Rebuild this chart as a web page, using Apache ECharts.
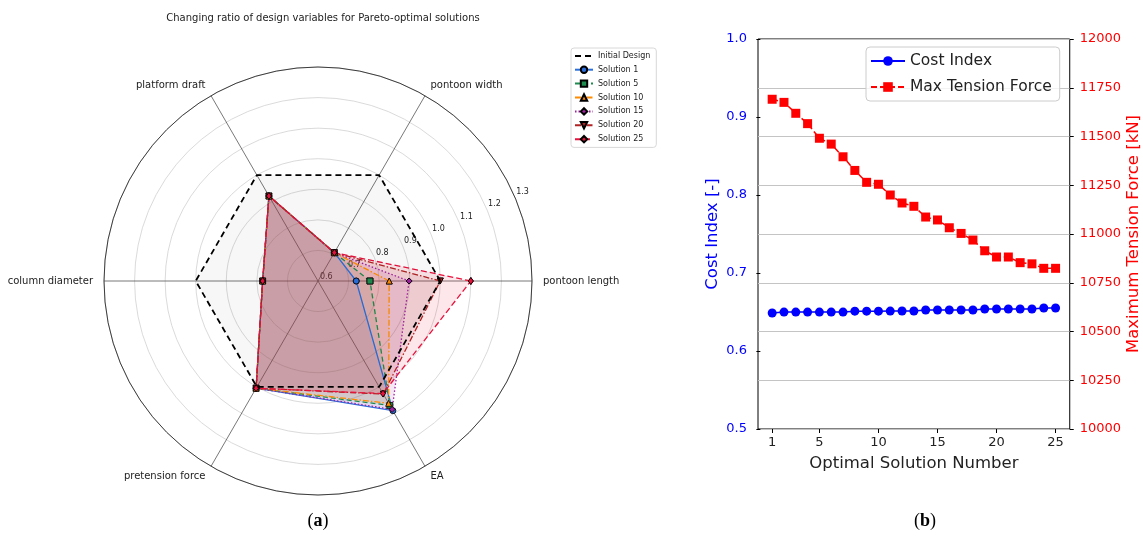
<!DOCTYPE html>
<html>
<head>
<meta charset="utf-8">
<script src="https://cdn.jsdelivr.net/npm/echarts@6/dist/echarts.min.js"></script>
<style>
  html, body { margin: 0; padding: 0; background: #ffffff; }
  #chart { width: 1143px; height: 537px; }
</style>
</head>
<body>
<div id="chart"></div>
<script>
// ---- Panel (a): changing ratio of design variables (polar / radar style) ----
const variables = ['pontoon length', 'pontoon width', 'platform draft', 'column diameter', 'pretension force', 'EA'];
const variableAngles = [0, 60, 120, 180, 240, 300];
const radialTicks = [0.6, 0.7, 0.8, 0.9, 1.0, 1.1, 1.2, 1.3];

const initialDesign = [1.0, 1.0, 1.0, 1.0, 1.0, 1.0];
const solution1  = [0.725, 0.707, 0.921, 0.781, 1.005, 1.090];
const solution5  = [0.770, 0.707, 0.921, 0.781, 1.005, 1.070];
const solution10 = [0.833, 0.707, 0.921, 0.781, 1.005, 1.062];
const solution15 = [0.898, 0.707, 0.921, 0.781, 1.005, 1.085];
const solution20 = [1.000, 0.707, 0.921, 0.781, 1.005, 1.027];
const solution25 = [1.100, 0.707, 0.921, 0.781, 1.005, 1.025];

// ---- Panel (b): cost index and maximum tension along the Pareto front ----
const solutionNumbers = [1, 2, 3, 4, 5, 6, 7, 8, 9, 10, 11, 12, 13, 14, 15, 16, 17, 18, 19, 20, 21, 22, 23, 24, 25];
const costIndex = [0.6487, 0.6499, 0.6499, 0.6499, 0.6499, 0.6499, 0.6499, 0.6511, 0.6511, 0.6511, 0.6512, 0.6513, 0.6513,
                   0.6525, 0.6525, 0.6525, 0.6525, 0.6525, 0.6539, 0.6539, 0.6539, 0.6539, 0.6539, 0.6552, 0.6552];
const maxTension = [11691, 11675, 11619, 11566, 11491, 11461, 11396, 11326, 11265, 11255, 11200, 11159, 11142,
                    11087, 11072, 11032, 11003, 10969, 10914, 10882, 10882, 10853, 10847, 10824, 10824];
const xTickValues = [1, 5, 10, 15, 20, 25];

const FONT = 'DejaVu Sans';

// closed polygon in (radius, angle) pairs
function polygon(values) {
  const pts = values.map((v, i) => [v, variableAngles[i]]);
  pts.push([values[0], 360]);
  return pts;
}

function solutionSeries(name, values, color, dash, symbol, extra) {
  return Object.assign({
    name: name,
    type: 'line',
    coordinateSystem: 'polar',
    polarIndex: 0,
    data: polygon(values),
    symbol: symbol,
    symbolSize: 6,
    lineStyle: { color: color, width: 1.3, type: dash },
    itemStyle: { color: color, borderColor: '#000', borderWidth: 0.8 },
    areaStyle: { color: color, opacity: 0.1 },
    z: 3
  }, extra || {});
}

const chart = echarts.init(document.getElementById('chart'), null, { renderer: 'canvas' });

const option = {
  animation: false,
  backgroundColor: '#ffffff',
  textStyle: { fontFamily: FONT },
  title: {
    text: 'Changing ratio of design variables for Pareto-optimal solutions',
    left: 318, top: 8, textAlign: 'center',
    textStyle: { fontSize: 10, fontWeight: 'normal', color: '#222', fontFamily: FONT }
  },
  legend: [
    {
      data: ['Initial Design', 'Solution 1', 'Solution 5', 'Solution 10', 'Solution 15', 'Solution 20', 'Solution 25'],
      orient: 'vertical', left: 571, top: 48,
      itemWidth: 18, itemHeight: 8, itemGap: 5.5,
      padding: [4, 6, 4, 3],
      borderColor: '#d8d8d8', borderWidth: 1, borderRadius: 3,
      textStyle: { fontSize: 8, color: '#222', fontFamily: FONT }
    },
    {
      data: ['Cost Index', 'Max Tension Force'],
      orient: 'vertical', left: 866, top: 47,
      itemWidth: 34, itemHeight: 12, itemGap: 10,
      padding: [6, 8, 6, 4],
      backgroundColor: 'rgba(255,255,255,0.8)',
      borderColor: '#cccccc', borderWidth: 1, borderRadius: 4,
      textStyle: { fontSize: 15.5, color: '#222', fontFamily: FONT }
    }
  ],
  polar: [
    { center: [318, 281], radius: 214 },
    { center: [318, 281], radius: [9, 223] }
  ],
  angleAxis: [
    {
      polarIndex: 0, type: 'value', min: 0, max: 360, interval: 60,
      startAngle: 0, clockwise: false,
      axisLine: { lineStyle: { color: '#3c3c3c', width: 1 } },
      axisTick: { show: false },
      splitLine: { lineStyle: { color: '#555555', width: 0.8 } },
      axisLabel: {
        margin: 11, fontSize: 10, color: '#222', lineHeight: 1, fontFamily: FONT,
        formatter: function (v) {
          const i = variableAngles.indexOf(v);
          return i >= 0 ? variables[i] : '';
        }
      }
    },
    {
      polarIndex: 1, type: 'value', min: 0, max: 360,
      startAngle: 23.5, clockwise: false,
      axisLine: { show: false }, axisTick: { show: false },
      axisLabel: { show: false }, splitLine: { show: false }
    }
  ],
  radiusAxis: [
    {
      polarIndex: 0, type: 'value', min: 0.6, max: 1.3, interval: 0.1,
      axisLine: { show: false }, axisTick: { show: false }, axisLabel: { show: false },
      splitLine: { lineStyle: { color: '#d0d0d0', width: 0.8 } }
    },
    {
      polarIndex: 1, type: 'value', min: 0.6, max: 1.3, interval: 0.1,
      axisLine: { show: false }, axisTick: { show: false }, splitLine: { show: false },
      axisLabel: {
        margin: 0, align: 'center', verticalAlign: 'middle',
        fontSize: 8, color: '#222', fontFamily: FONT,
        formatter: function (v) { return radialTicks.indexOf(Math.round(v * 10) / 10) >= 0 ? v.toFixed(1) : ''; }
      }
    }
  ],
  grid: {
    left: 758, right: 72, top: 39, bottom: 108,
    show: true, borderColor: '#000', borderWidth: 1
  },
  xAxis: {
    type: 'value', min: -0.2, max: 26.2,
    axisLine: { show: false },
    axisTick: { show: true, length: 4, customValues: xTickValues, lineStyle: { color: '#000' } },
    axisLabel: { customValues: xTickValues, fontSize: 13, color: '#222', margin: 7, fontFamily: FONT },
    splitLine: { show: false },
    name: 'Optimal Solution Number', nameLocation: 'middle', nameGap: 26,
    nameTextStyle: { fontSize: 16.5, color: '#222', fontFamily: FONT }
  },
  yAxis: [
    {
      type: 'value', position: 'left', min: 0.5, max: 1.0, interval: 0.1,
      axisLine: { show: false },
      axisTick: { show: true, length: 4, lineStyle: { color: '#000' } },
      axisLabel: { fontSize: 13, color: '#0000ff', margin: 11, fontFamily: FONT,
                   formatter: function (v) { return v.toFixed(1); } },
      splitLine: { show: false },
      name: 'Cost Index [-]', nameLocation: 'middle', nameGap: 37, nameRotate: 90,
      nameTextStyle: { fontSize: 16.5, color: '#0000ff', fontFamily: FONT }
    },
    {
      type: 'value', position: 'right', min: 10000, max: 12000, interval: 250,
      axisLine: { show: false },
      axisTick: { show: true, length: 4, lineStyle: { color: '#000' } },
      axisLabel: { fontSize: 13, color: '#ff0000', margin: 10, fontFamily: FONT,
                   formatter: function (v) { return String(v); } },
      splitLine: { show: true, lineStyle: { color: '#c4c4c4', width: 1 } },
      name: 'Maximum Tension Force [kN]', nameLocation: 'middle', nameGap: 52, nameRotate: 90,
      nameTextStyle: { fontSize: 16.5, color: '#ff0000', fontFamily: FONT }
    }
  ],
  graphic: [
    {
      type: 'text', x: 318, y: 521,
      style: {
        text: '({b|a})', align: 'center', verticalAlign: 'middle',
        font: '18px "Liberation Serif"', fill: '#000',
        rich: { b: { fontWeight: 'bold', fontSize: 18, fontFamily: 'Liberation Serif' } }
      }
    },
    {
      type: 'text', x: 925, y: 521,
      style: {
        text: '({b|b})', align: 'center', verticalAlign: 'middle',
        font: '18px "Liberation Serif"', fill: '#000',
        rich: { b: { fontWeight: 'bold', fontSize: 18, fontFamily: 'Liberation Serif' } }
      }
    }
  ],
  series: [
    solutionSeries('Solution 1',  solution1,  '#2a6fdc', 'solid', 'circle'),
    solutionSeries('Solution 5',  solution5,  '#1e8c4e', [5, 3], 'rect'),
    solutionSeries('Solution 10', solution10, '#ff8c00', [6, 2, 1.5, 2], 'triangle'),
    solutionSeries('Solution 15', solution15, '#a020a0', [1.5, 2], 'diamond'),
    solutionSeries('Solution 20', solution20, '#b22222', [6, 2, 1.5, 2], 'triangle', { symbolRotate: 180 }),
    solutionSeries('Solution 25', solution25, '#e8123c', [6, 3], 'diamond', { symbolSize: [5, 7] }),
    {
      name: 'Initial Design',
      type: 'line',
      coordinateSystem: 'polar',
      polarIndex: 0,
      data: polygon(initialDesign),
      symbol: 'none',
      lineStyle: { color: '#000', width: 1.8, type: [6, 4] },
      itemStyle: { color: 'rgba(0,0,0,0)' },
      areaStyle: { color: 'rgba(0,0,0,0.045)' },
      z: 4
    },
    {
      name: 'Cost Index',
      type: 'line',
      xAxisIndex: 0, yAxisIndex: 0,
      data: solutionNumbers.map((n, i) => [n, costIndex[i]]),
      symbol: 'circle', symbolSize: 9,
      lineStyle: { color: '#0000ff', width: 1.5 },
      itemStyle: { color: '#0000ff' },
      z: 3
    },
    {
      name: 'Max Tension Force',
      type: 'line',
      xAxisIndex: 0, yAxisIndex: 1,
      data: solutionNumbers.map((n, i) => [n, maxTension[i]]),
      symbol: 'rect', symbolSize: 9,
      lineStyle: { color: '#ff0000', width: 1.5, type: [6, 3] },
      itemStyle: { color: '#ff0000' },
      z: 3
    }
  ]
};

chart.setOption(option);
</script>
</body>
</html>
